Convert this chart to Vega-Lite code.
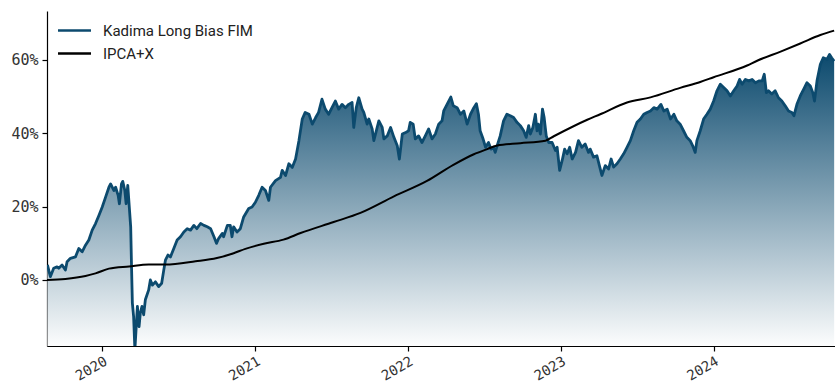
{
  "$schema": "https://vega.github.io/schema/vega-lite/v6.json",
  "width": 788,
  "height": 335,
  "autosize": {"type": "none"},
  "padding": {"left": 47, "top": 11, "right": 0, "bottom": 37},
  "background": "white",
  "config": {
    "view": {"stroke": null},
    "axis": {
      "domainColor": "#000000",
      "domainWidth": 1.2,
      "tickColor": "#000000",
      "tickWidth": 1.2,
      "tickSize": 5,
      "labelFont": "DejaVu Sans Mono",
      "labelFontSize": 15,
      "labelColor": "#333333",
      "labelPadding": 4,
      "grid": false,
      "title": null
    },
    "legend": {
      "orient": "none",
      "legendX": 18,
      "legendY": 10,
      "symbolType": "M-2,0H2",
      "symbolSize": 272,
      "symbolStrokeWidth": 2.5,
      "labelFont": "Roboto",
      "labelFontSize": 15,
      "labelColor": "#222222",
      "labelOffset": 19,
      "rowPadding": 5
    }
  },
  "datasets": {
    "kadima": [
      {"date": "2019-08-23", "value": 0.041},
      {"date": "2019-08-30", "value": 0.009},
      {"date": "2019-09-07", "value": 0.032},
      {"date": "2019-09-15", "value": 0.036},
      {"date": "2019-09-19", "value": 0.032},
      {"date": "2019-09-27", "value": 0.041},
      {"date": "2019-10-05", "value": 0.027},
      {"date": "2019-10-09", "value": 0.050},
      {"date": "2019-10-17", "value": 0.059},
      {"date": "2019-10-29", "value": 0.063},
      {"date": "2019-11-06", "value": 0.086},
      {"date": "2019-11-14", "value": 0.077},
      {"date": "2019-11-22", "value": 0.095},
      {"date": "2019-11-30", "value": 0.109},
      {"date": "2019-12-08", "value": 0.136},
      {"date": "2019-12-16", "value": 0.154},
      {"date": "2019-12-24", "value": 0.176},
      {"date": "2020-01-01", "value": 0.199},
      {"date": "2020-01-09", "value": 0.226},
      {"date": "2020-01-17", "value": 0.253},
      {"date": "2020-01-21", "value": 0.262},
      {"date": "2020-01-29", "value": 0.244},
      {"date": "2020-02-02", "value": 0.253},
      {"date": "2020-02-08", "value": 0.231},
      {"date": "2020-02-11", "value": 0.208},
      {"date": "2020-02-16", "value": 0.262},
      {"date": "2020-02-19", "value": 0.269},
      {"date": "2020-02-24", "value": 0.244},
      {"date": "2020-02-27", "value": 0.208},
      {"date": "2020-03-02", "value": 0.258},
      {"date": "2020-03-09", "value": 0.145},
      {"date": "2020-03-11", "value": 0.036},
      {"date": "2020-03-13", "value": -0.063},
      {"date": "2020-03-16", "value": -0.100},
      {"date": "2020-03-19", "value": -0.190},
      {"date": "2020-03-25", "value": -0.072},
      {"date": "2020-03-29", "value": -0.127},
      {"date": "2020-04-01", "value": -0.090},
      {"date": "2020-04-05", "value": -0.072},
      {"date": "2020-04-09", "value": -0.095},
      {"date": "2020-04-13", "value": -0.054},
      {"date": "2020-04-21", "value": -0.027},
      {"date": "2020-04-25", "value": 0.000},
      {"date": "2020-04-30", "value": -0.014},
      {"date": "2020-05-07", "value": -0.005},
      {"date": "2020-05-15", "value": -0.018},
      {"date": "2020-05-22", "value": -0.009},
      {"date": "2020-05-27", "value": 0.027},
      {"date": "2020-05-31", "value": 0.054},
      {"date": "2020-06-06", "value": 0.068},
      {"date": "2020-06-12", "value": 0.063},
      {"date": "2020-06-20", "value": 0.086},
      {"date": "2020-06-28", "value": 0.109},
      {"date": "2020-07-06", "value": 0.118},
      {"date": "2020-07-14", "value": 0.131},
      {"date": "2020-07-22", "value": 0.140},
      {"date": "2020-07-30", "value": 0.136},
      {"date": "2020-08-07", "value": 0.149},
      {"date": "2020-08-14", "value": 0.140},
      {"date": "2020-08-23", "value": 0.154},
      {"date": "2020-08-31", "value": 0.149},
      {"date": "2020-09-08", "value": 0.145},
      {"date": "2020-09-16", "value": 0.140},
      {"date": "2020-09-24", "value": 0.118},
      {"date": "2020-09-30", "value": 0.100},
      {"date": "2020-10-05", "value": 0.113},
      {"date": "2020-10-14", "value": 0.127},
      {"date": "2020-10-17", "value": 0.118},
      {"date": "2020-10-26", "value": 0.149},
      {"date": "2020-11-02", "value": 0.149},
      {"date": "2020-11-06", "value": 0.118},
      {"date": "2020-11-10", "value": 0.145},
      {"date": "2020-11-18", "value": 0.131},
      {"date": "2020-11-26", "value": 0.140},
      {"date": "2020-12-04", "value": 0.172},
      {"date": "2020-12-16", "value": 0.195},
      {"date": "2020-12-24", "value": 0.199},
      {"date": "2021-01-01", "value": 0.212},
      {"date": "2021-01-09", "value": 0.231},
      {"date": "2021-01-17", "value": 0.253},
      {"date": "2021-01-25", "value": 0.244},
      {"date": "2021-02-02", "value": 0.217},
      {"date": "2021-02-06", "value": 0.253},
      {"date": "2021-02-18", "value": 0.271},
      {"date": "2021-03-02", "value": 0.280},
      {"date": "2021-03-06", "value": 0.299},
      {"date": "2021-03-14", "value": 0.285},
      {"date": "2021-03-22", "value": 0.317},
      {"date": "2021-03-30", "value": 0.307},
      {"date": "2021-04-07", "value": 0.330},
      {"date": "2021-04-15", "value": 0.380},
      {"date": "2021-04-23", "value": 0.439},
      {"date": "2021-04-30", "value": 0.457},
      {"date": "2021-05-09", "value": 0.452},
      {"date": "2021-05-17", "value": 0.425},
      {"date": "2021-05-25", "value": 0.443},
      {"date": "2021-06-01", "value": 0.457},
      {"date": "2021-06-09", "value": 0.493},
      {"date": "2021-06-17", "value": 0.466},
      {"date": "2021-06-25", "value": 0.452},
      {"date": "2021-07-03", "value": 0.470},
      {"date": "2021-07-11", "value": 0.488},
      {"date": "2021-07-19", "value": 0.466},
      {"date": "2021-07-27", "value": 0.479},
      {"date": "2021-08-04", "value": 0.470},
      {"date": "2021-08-12", "value": 0.479},
      {"date": "2021-08-20", "value": 0.484},
      {"date": "2021-08-24", "value": 0.416},
      {"date": "2021-08-30", "value": 0.470},
      {"date": "2021-09-05", "value": 0.497},
      {"date": "2021-09-13", "value": 0.466},
      {"date": "2021-09-17", "value": 0.457},
      {"date": "2021-09-25", "value": 0.425},
      {"date": "2021-09-29", "value": 0.439},
      {"date": "2021-10-07", "value": 0.412},
      {"date": "2021-10-11", "value": 0.380},
      {"date": "2021-10-19", "value": 0.416},
      {"date": "2021-10-23", "value": 0.434},
      {"date": "2021-10-31", "value": 0.416},
      {"date": "2021-11-04", "value": 0.385},
      {"date": "2021-11-12", "value": 0.393},
      {"date": "2021-11-20", "value": 0.416},
      {"date": "2021-11-28", "value": 0.389},
      {"date": "2021-12-06", "value": 0.366},
      {"date": "2021-12-11", "value": 0.330},
      {"date": "2021-12-18", "value": 0.398},
      {"date": "2021-12-26", "value": 0.402},
      {"date": "2022-01-02", "value": 0.407},
      {"date": "2022-01-06", "value": 0.430},
      {"date": "2022-01-13", "value": 0.425},
      {"date": "2022-01-18", "value": 0.385},
      {"date": "2022-01-26", "value": 0.393},
      {"date": "2022-02-03", "value": 0.375},
      {"date": "2022-02-11", "value": 0.393},
      {"date": "2022-02-19", "value": 0.412},
      {"date": "2022-02-27", "value": 0.385},
      {"date": "2022-03-07", "value": 0.398},
      {"date": "2022-03-15", "value": 0.425},
      {"date": "2022-03-23", "value": 0.434},
      {"date": "2022-03-27", "value": 0.461},
      {"date": "2022-04-04", "value": 0.479},
      {"date": "2022-04-13", "value": 0.499},
      {"date": "2022-04-19", "value": 0.475},
      {"date": "2022-04-28", "value": 0.470},
      {"date": "2022-05-06", "value": 0.452},
      {"date": "2022-05-14", "value": 0.461},
      {"date": "2022-05-22", "value": 0.425},
      {"date": "2022-05-30", "value": 0.452},
      {"date": "2022-06-07", "value": 0.470},
      {"date": "2022-06-13", "value": 0.481},
      {"date": "2022-06-18", "value": 0.452},
      {"date": "2022-06-22", "value": 0.407},
      {"date": "2022-06-29", "value": 0.385},
      {"date": "2022-07-05", "value": 0.362},
      {"date": "2022-07-12", "value": 0.375},
      {"date": "2022-07-18", "value": 0.357},
      {"date": "2022-07-24", "value": 0.362},
      {"date": "2022-07-28", "value": 0.348},
      {"date": "2022-08-03", "value": 0.371},
      {"date": "2022-08-09", "value": 0.393},
      {"date": "2022-08-17", "value": 0.434},
      {"date": "2022-08-25", "value": 0.452},
      {"date": "2022-09-02", "value": 0.448},
      {"date": "2022-09-10", "value": 0.443},
      {"date": "2022-09-18", "value": 0.430},
      {"date": "2022-09-26", "value": 0.421},
      {"date": "2022-10-04", "value": 0.407},
      {"date": "2022-10-10", "value": 0.389},
      {"date": "2022-10-16", "value": 0.421},
      {"date": "2022-10-20", "value": 0.398},
      {"date": "2022-10-26", "value": 0.416},
      {"date": "2022-11-01", "value": 0.452},
      {"date": "2022-11-05", "value": 0.407},
      {"date": "2022-11-08", "value": 0.425},
      {"date": "2022-11-13", "value": 0.398},
      {"date": "2022-11-18", "value": 0.466},
      {"date": "2022-11-22", "value": 0.443},
      {"date": "2022-11-27", "value": 0.393},
      {"date": "2022-12-03", "value": 0.375},
      {"date": "2022-12-11", "value": 0.375},
      {"date": "2022-12-19", "value": 0.353},
      {"date": "2022-12-23", "value": 0.362},
      {"date": "2022-12-29", "value": 0.299},
      {"date": "2023-01-04", "value": 0.326},
      {"date": "2023-01-10", "value": 0.357},
      {"date": "2023-01-16", "value": 0.344},
      {"date": "2023-01-22", "value": 0.362},
      {"date": "2023-01-28", "value": 0.330},
      {"date": "2023-02-05", "value": 0.348},
      {"date": "2023-02-12", "value": 0.380},
      {"date": "2023-02-20", "value": 0.362},
      {"date": "2023-02-28", "value": 0.371},
      {"date": "2023-03-08", "value": 0.348},
      {"date": "2023-03-12", "value": 0.357},
      {"date": "2023-03-20", "value": 0.335},
      {"date": "2023-03-28", "value": 0.339},
      {"date": "2023-04-05", "value": 0.303},
      {"date": "2023-04-09", "value": 0.285},
      {"date": "2023-04-17", "value": 0.312},
      {"date": "2023-04-25", "value": 0.303},
      {"date": "2023-05-01", "value": 0.330},
      {"date": "2023-05-07", "value": 0.308},
      {"date": "2023-05-15", "value": 0.317},
      {"date": "2023-05-23", "value": 0.330},
      {"date": "2023-05-31", "value": 0.344},
      {"date": "2023-06-08", "value": 0.362},
      {"date": "2023-06-16", "value": 0.380},
      {"date": "2023-06-24", "value": 0.407},
      {"date": "2023-07-02", "value": 0.430},
      {"date": "2023-07-10", "value": 0.439},
      {"date": "2023-07-18", "value": 0.452},
      {"date": "2023-07-26", "value": 0.457},
      {"date": "2023-08-03", "value": 0.461},
      {"date": "2023-08-11", "value": 0.470},
      {"date": "2023-08-19", "value": 0.466},
      {"date": "2023-08-28", "value": 0.479},
      {"date": "2023-09-04", "value": 0.461},
      {"date": "2023-09-12", "value": 0.466},
      {"date": "2023-09-20", "value": 0.439},
      {"date": "2023-09-28", "value": 0.452},
      {"date": "2023-10-05", "value": 0.434},
      {"date": "2023-10-13", "value": 0.425},
      {"date": "2023-10-21", "value": 0.407},
      {"date": "2023-10-29", "value": 0.389},
      {"date": "2023-11-06", "value": 0.380},
      {"date": "2023-11-12", "value": 0.366},
      {"date": "2023-11-18", "value": 0.348},
      {"date": "2023-11-22", "value": 0.380},
      {"date": "2023-11-30", "value": 0.407},
      {"date": "2023-12-08", "value": 0.439},
      {"date": "2023-12-16", "value": 0.452},
      {"date": "2023-12-24", "value": 0.466},
      {"date": "2024-01-01", "value": 0.488},
      {"date": "2024-01-09", "value": 0.516},
      {"date": "2024-01-17", "value": 0.534},
      {"date": "2024-01-25", "value": 0.525},
      {"date": "2024-02-02", "value": 0.516},
      {"date": "2024-02-10", "value": 0.502},
      {"date": "2024-02-18", "value": 0.516},
      {"date": "2024-02-26", "value": 0.529},
      {"date": "2024-03-03", "value": 0.547},
      {"date": "2024-03-09", "value": 0.534},
      {"date": "2024-03-17", "value": 0.547},
      {"date": "2024-03-25", "value": 0.543},
      {"date": "2024-04-02", "value": 0.547},
      {"date": "2024-04-10", "value": 0.538},
      {"date": "2024-04-18", "value": 0.543},
      {"date": "2024-04-26", "value": 0.543},
      {"date": "2024-05-01", "value": 0.561},
      {"date": "2024-05-06", "value": 0.511},
      {"date": "2024-05-11", "value": 0.516},
      {"date": "2024-05-19", "value": 0.507},
      {"date": "2024-05-27", "value": 0.516},
      {"date": "2024-06-04", "value": 0.497},
      {"date": "2024-06-12", "value": 0.488},
      {"date": "2024-06-20", "value": 0.475},
      {"date": "2024-06-28", "value": 0.461},
      {"date": "2024-07-06", "value": 0.457},
      {"date": "2024-07-11", "value": 0.448},
      {"date": "2024-07-18", "value": 0.479},
      {"date": "2024-07-26", "value": 0.502},
      {"date": "2024-08-03", "value": 0.520},
      {"date": "2024-08-11", "value": 0.538},
      {"date": "2024-08-19", "value": 0.529},
      {"date": "2024-08-25", "value": 0.511},
      {"date": "2024-08-29", "value": 0.488},
      {"date": "2024-09-04", "value": 0.543},
      {"date": "2024-09-12", "value": 0.588},
      {"date": "2024-09-19", "value": 0.606},
      {"date": "2024-09-28", "value": 0.602},
      {"date": "2024-10-04", "value": 0.615},
      {"date": "2024-10-09", "value": 0.606},
      {"date": "2024-10-15", "value": 0.597}
    ],
    "ipca": [
      {"date": "2019-08-22", "value": 0.000},
      {"date": "2019-10-05", "value": 0.003},
      {"date": "2019-11-22", "value": 0.011},
      {"date": "2019-12-16", "value": 0.018},
      {"date": "2020-01-17", "value": 0.031},
      {"date": "2020-03-05", "value": 0.037},
      {"date": "2020-04-21", "value": 0.042},
      {"date": "2020-05-31", "value": 0.042},
      {"date": "2020-08-11", "value": 0.051},
      {"date": "2020-10-01", "value": 0.060},
      {"date": "2020-11-10", "value": 0.073},
      {"date": "2020-12-08", "value": 0.085},
      {"date": "2021-01-21", "value": 0.099},
      {"date": "2021-03-09", "value": 0.110},
      {"date": "2021-04-19", "value": 0.128},
      {"date": "2021-07-07", "value": 0.158},
      {"date": "2021-09-09", "value": 0.183},
      {"date": "2021-11-28", "value": 0.228},
      {"date": "2022-02-15", "value": 0.270},
      {"date": "2022-04-19", "value": 0.314},
      {"date": "2022-06-07", "value": 0.343},
      {"date": "2022-07-09", "value": 0.357},
      {"date": "2022-08-02", "value": 0.367},
      {"date": "2022-09-26", "value": 0.373},
      {"date": "2022-11-25", "value": 0.380},
      {"date": "2022-12-15", "value": 0.392},
      {"date": "2023-03-05", "value": 0.437},
      {"date": "2023-04-05", "value": 0.452},
      {"date": "2023-06-08", "value": 0.484},
      {"date": "2023-08-03", "value": 0.498},
      {"date": "2023-10-13", "value": 0.524},
      {"date": "2023-11-30", "value": 0.540},
      {"date": "2024-01-01", "value": 0.553},
      {"date": "2024-03-21", "value": 0.585},
      {"date": "2024-04-14", "value": 0.598},
      {"date": "2024-06-09", "value": 0.623},
      {"date": "2024-07-26", "value": 0.645},
      {"date": "2024-09-12", "value": 0.668},
      {"date": "2024-10-15", "value": 0.680}
    ]
  },
  "encoding": {
    "x": {
      "field": "date",
      "type": "temporal",
      "scale": {"domain": ["2019-08-22", "2024-10-17"]},
      "axis": {"format": "%Y", "tickCount": {"interval": "year", "step": 1}, "labelAngle": -30, "labelPadding": 3, "labelFontSize": 14}
    },
    "y": {
      "field": "value",
      "type": "quantitative",
      "scale": {"domain": [-0.18, 0.7336], "nice": false, "zero": false},
      "axis": {"format": ".0%", "values": [0, 0.2, 0.4, 0.6]}
    }
  },
  "layer": [
    {
      "data": {"name": "kadima"},
      "mark": {
        "type": "area",
        "clip": true,
        "fill": {
          "gradient": "linear",
          "x1": 0, "y1": 0, "x2": 0, "y2": 1,
          "stops": [
            {"offset": 0, "color": "#0c4a6e"},
            {"offset": 1, "color": "#ffffff"}
          ]
        }
      },
      "encoding": {"y2": {"datum": -0.18}}
    },
    {
      "data": {"name": "kadima"},
      "mark": {"type": "line", "clip": true, "strokeWidth": 2.8, "strokeJoin": "round"},
      "encoding": {
        "color": {
          "datum": "Kadima Long Bias FIM",
          "scale": {"domain": ["Kadima Long Bias FIM", "IPCA+X"], "range": ["#0c4a6e", "#000000"]},
          "legend": {"title": null}
        }
      }
    },
    {
      "data": {"name": "ipca"},
      "mark": {"type": "line", "clip": true, "strokeWidth": 2, "interpolate": "monotone"},
      "encoding": {
        "color": {"datum": "IPCA+X"}
      }
    }
  ]
}
